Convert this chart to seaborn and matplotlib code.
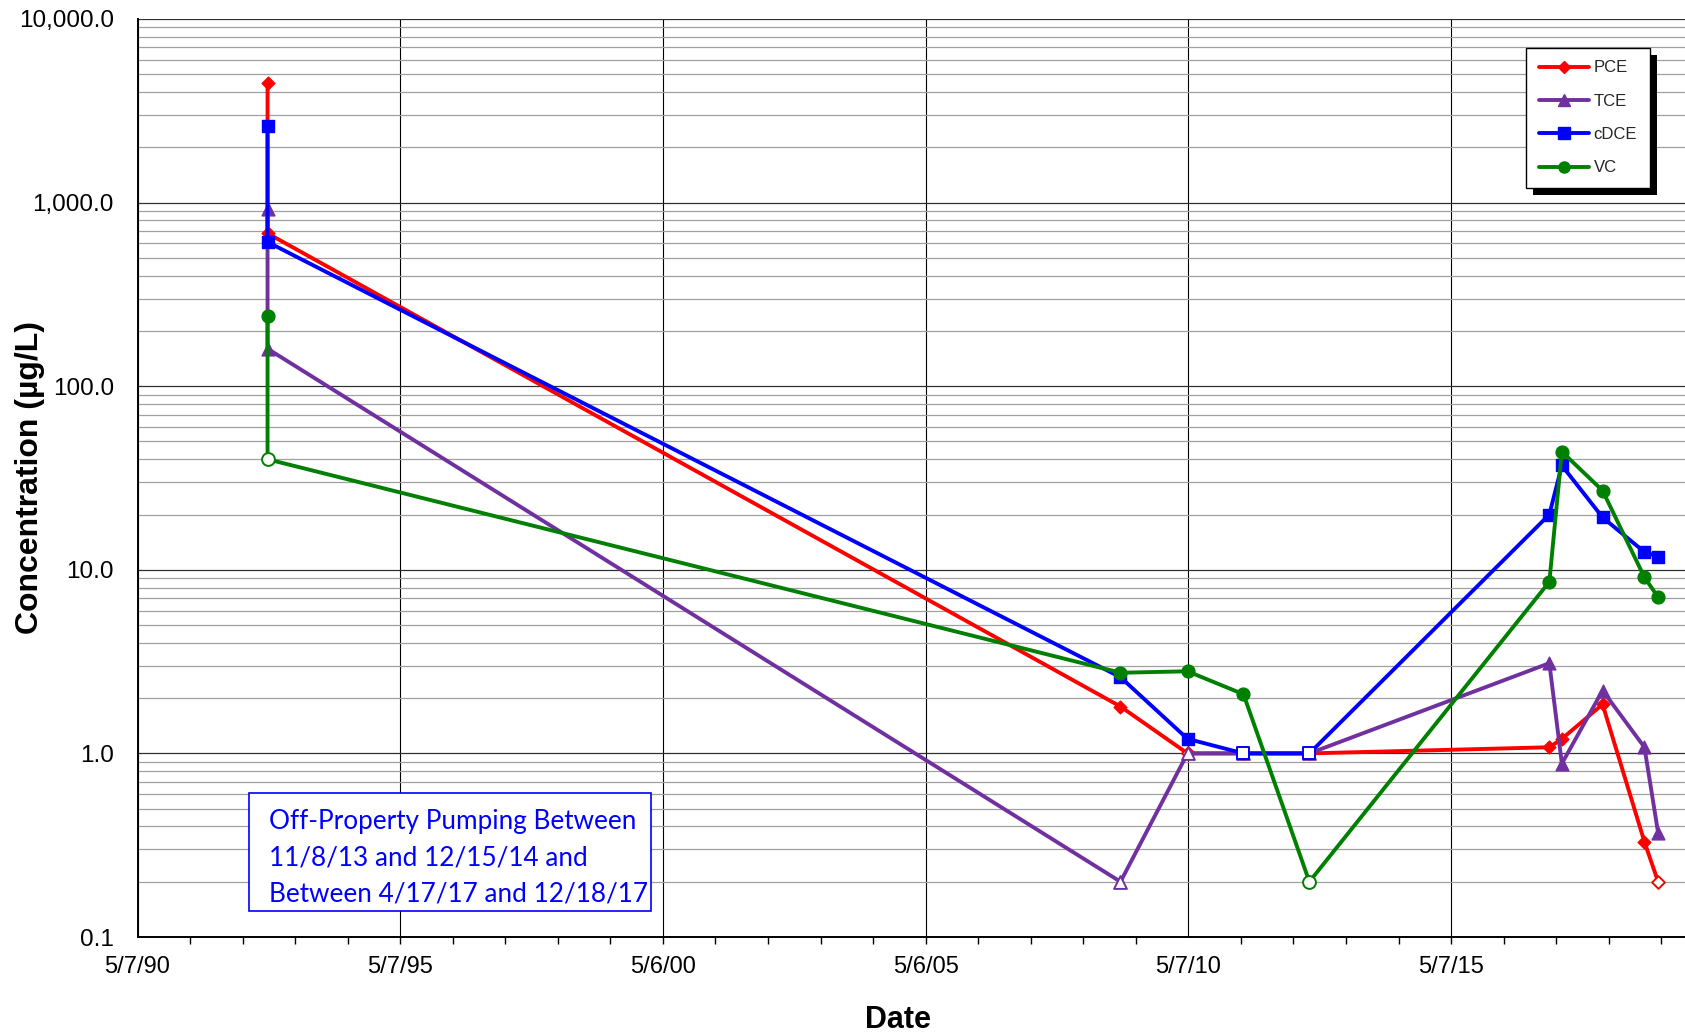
import numpy as np
import pandas as pd
import matplotlib
matplotlib.use('Agg')
import matplotlib.pyplot as plt
from matplotlib.lines import Line2D
from matplotlib.patches import Rectangle
from matplotlib.ticker import LogLocator, NullFormatter
import seaborn as sns

# sampling dates; the 1992 event has two results per analyte
DATES = ['1992-10-27', '1992-10-27', '2009-01-20', '2010-05-01', '2011-05-25', '2012-08-25',
         '2017-03-20', '2017-06-15', '2018-03-25', '2019-01-10', '2019-04-15']

PCE = [4500, 680, 1.8, 1.0, 1.0, 1.0, 1.08, 1.2, 1.85, 0.33, 0.2]
TCE = [920, 160, 0.2, 1.0, 1.0, 1.0, 3.1, 0.88, 2.2, 1.08, 0.37]
CDCE = [2600, 610, 2.6, 1.2, 1.0, 1.0, 20, 37, 19.3, 12.5, 11.8]
VC = [240, 40, 2.75, 2.8, 2.1, 0.2, 8.6, 44, 27, 9.1, 7.1]

# non-detects (open symbols)
PCE_ND = [0, 0, 0, 1, 1, 1, 0, 0, 0, 0, 1]
TCE_ND = [0, 0, 1, 1, 1, 1, 0, 0, 0, 0, 0]
CDCE_ND = [0, 0, 0, 0, 1, 1, 0, 0, 0, 0, 0]
VC_ND = [0, 1, 0, 0, 0, 1, 0, 0, 0, 0, 0]

ANALYTES = ['PCE', 'TCE', 'cDCE', 'VC']
COLORS = {'PCE': '#FF0000', 'TCE': '#7030A0', 'cDCE': '#0000FF', 'VC': '#008000'}
MARKERS = {'PCE': 'D', 'TCE': '^', 'cDCE': 's', 'VC': 'o'}
SIZES = {'PCE': 42, 'TCE': 85, 'cDCE': 85, 'VC': 85}

XTICKS = ['1990-05-07', '1995-05-07', '2000-05-06', '2005-05-06', '2010-05-07', '2015-05-07']
XTICK_LABELS = ['5/7/90', '5/7/95', '5/6/00', '5/6/05', '5/7/10', '5/7/15']
YTICKS = [0.1, 1, 10, 100, 1000, 10000]
YTICK_LABELS = ['0.1', '1.0', '10.0', '100.0', '1,000.0', '10,000.0']

NOTE = 'Off-Property Pumping Between\n11/8/13 and 12/15/14 and\nBetween 4/17/17 and 12/18/17'

frames = []
for name, vals, nd in zip(ANALYTES, [PCE, TCE, CDCE, VC], [PCE_ND, TCE_ND, CDCE_ND, VC_ND]):
    frames.append(pd.DataFrame({'date': pd.to_datetime(DATES), 'conc': vals,
                                'nd': np.array(nd, dtype=bool), 'analyte': name}))
df = pd.concat(frames, ignore_index=True)

sns.set_theme(style='white')
plt.rcParams['font.family'] = ['Liberation Sans', 'DejaVu Sans']

W, H = 1685, 1033
fig = plt.figure(figsize=(W / 100, H / 100), dpi=100)
ax = fig.add_axes([137.5 / W, 96 / H, 1 - 137.5 / W, 918 / H])

z = 3
for name in ANALYTES:
    sub = df[df['analyte'] == name]
    c = COLORS[name]
    sns.lineplot(data=sub, x='date', y='conc', color=c, lw=2.8, estimator=None,
                 sort=False, ax=ax, legend=False, zorder=z)
    det = sub[~sub['nd']]
    nd = sub[sub['nd']]
    sns.scatterplot(data=det, x='date', y='conc', marker=MARKERS[name], color=c,
                    edgecolor=c, s=SIZES[name], linewidth=1, ax=ax, legend=False, zorder=z + 1)
    if len(nd):
        sns.scatterplot(data=nd, x='date', y='conc', marker=MARKERS[name], color=c,
                        facecolor='white', edgecolor=c, s=SIZES[name], linewidth=1.4,
                        ax=ax, legend=False, zorder=z + 1)
    z += 2

ax.set_yscale('log')
ax.set_ylim(0.1, 10000)
ax.set_xlim(pd.Timestamp('1990-05-07'), pd.Timestamp('2019-10-19'))

ax.set_yticks(YTICKS)
ax.set_yticklabels(YTICK_LABELS)
ax.yaxis.set_minor_locator(LogLocator(base=10, subs=np.arange(2, 10)))
ax.yaxis.set_minor_formatter(NullFormatter())

xt = pd.to_datetime(XTICKS)
ax.set_xticks(xt)
ax.set_xticklabels(XTICK_LABELS)
minor_x = [pd.Timestamp('1990-05-07') + pd.Timedelta(days=365.25 * k) for k in range(1, 30)]
ax.set_xticks(minor_x, minor=True)

ax.grid(which='major', axis='y', color='#303030', lw=0.9)
ax.grid(which='minor', axis='y', color='#A0A0A0', lw=0.9)
ax.grid(which='major', axis='x', color='#000000', lw=0.8)
ax.set_axisbelow(True)

ax.tick_params(axis='both', which='major', direction='out', length=6, width=1,
               color='black', labelcolor='black')
ax.tick_params(axis='y', which='major', pad=11, labelsize=17.5)
ax.tick_params(axis='x', which='major', pad=8, labelsize=17)
ax.tick_params(axis='y', which='minor', length=0)
ax.tick_params(axis='x', which='minor', direction='out', length=5, width=1, color='black',
               bottom=True)

for side in ['top', 'right']:
    ax.spines[side].set_visible(False)
for side in ['left', 'bottom']:
    ax.spines[side].set_color('black')
    ax.spines[side].set_linewidth(1.4)

ax.set_xlabel('Date', fontsize=22, fontweight='bold', color='black')
ax.set_ylabel('Concentration (µg/L)', fontsize=23, fontweight='bold', color='black')
ax.xaxis.set_label_coords(0.4914, -0.074)
ax.yaxis.set_label_coords(-0.060, 0.5)

# note box
fig.patches.append(Rectangle((249 / W, 1 - 911 / H), 402 / W, 118 / H, transform=fig.transFigure,
                             fc='white', ec='#0000FF', lw=1.2, zorder=20))
fig.text(269 / W, 1 - 858 / H, NOTE, color='#0000FF', fontsize=18.8, family=['Lato', 'DejaVu Sans'],
         ha='left', va='center', linespacing=1.55, zorder=21)

# legend
handles = [Line2D([], [], color=COLORS[n], lw=2.8, marker=MARKERS[n],
                  markersize=6 if n == 'PCE' else 8) for n in ANALYTES]
leg = fig.legend(handles, ANALYTES, loc='upper left', bbox_to_anchor=(1526 / W, 1 - 48 / H),
                 frameon=True, fancybox=False, fontsize=12, handlelength=3.0,
                 labelspacing=1.1, borderpad=0.75, handletextpad=0.3, borderaxespad=0)
frame = leg.get_frame()
frame.set_facecolor('white')
frame.set_alpha(1)
frame.set_edgecolor('black')
frame.set_linewidth(1.0)
leg.set_zorder(30)

fig.canvas.draw()
bb = leg.get_window_extent()
fig.patches.append(Rectangle(((bb.x0 + 7) / W, (bb.y0 - 7) / H), bb.width / W, bb.height / H,
                             transform=fig.transFigure, fc='black', ec='none', zorder=29))

fig.savefig('out.png', dpi=100)
